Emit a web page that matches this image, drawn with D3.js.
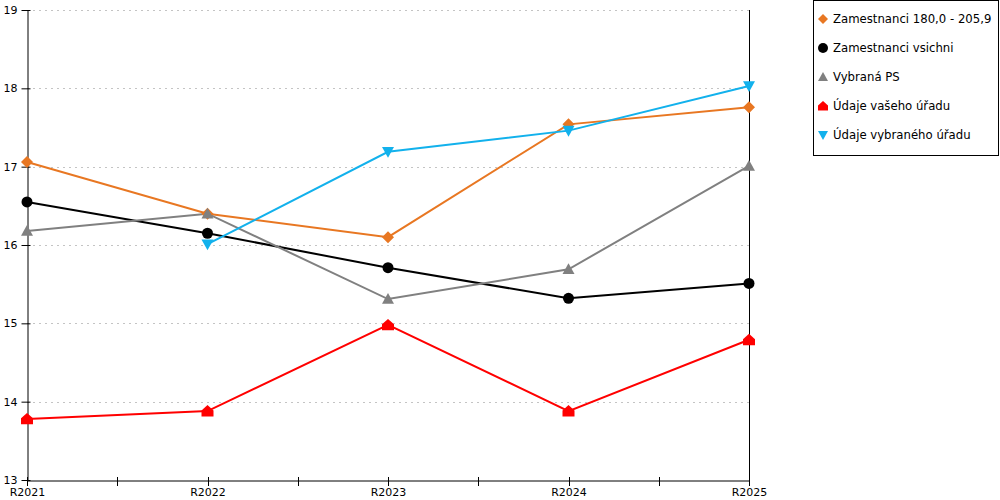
<!DOCTYPE html>
<html>
<head>
<meta charset="utf-8">
<script src="https://cdnjs.cloudflare.com/ajax/libs/d3/7.8.5/d3.min.js"></script>
<style>
  body { margin: 0; background: #fff; }
  svg text { font-family: "DejaVu Sans", Verdana, sans-serif; font-size: 11px; fill: #000; }
</style>
</head>
<body>
<svg id="chart" width="1000" height="500"></svg>
<script>
var years = ["R2021", "R2022", "R2023", "R2024", "R2025"];
var yTicks = [13, 14, 15, 16, 17, 18, 19];

var zam180 = [17.06, 16.40, 16.10, 17.54, 17.76];
var zamVsichni = [16.55, 16.15, 15.71, 15.32, 15.51];
var vybranaPS = [16.18, 16.40, 15.31, 15.69, 17.01];
var vasUrad = [13.78, 13.88, 14.98, 13.88, 14.79];
var vybranyUrad = [null, 16.01, 17.19, 17.46, 18.03];

var seriesNames = ["Zamestnanci 180,0 - 205,9", "Zamestnanci vsichni", "Vybraná PS", "Údaje vašeho úřadu", "Údaje vybraného úřadu"];
var seriesColors = ["#e87722", "#000000", "#808080", "#ff0000", "#12b1ec"];
var seriesShapes = ["diamond", "circle", "triangle", "house", "triangleDown"];
var seriesValues = [zam180, zamVsichni, vybranaPS, vasUrad, vybranyUrad];

var svg = d3.select("#chart");
var plotLeft = 27, plotRight = 749, plotTop = 10, plotBottom = 480;

var x = d3.scalePoint().domain(years).range([plotLeft, plotRight]);
var y = d3.scaleLinear().domain([13, 19]).range([plotBottom, plotTop]);

// dashed grid
svg.append("g").selectAll("line")
  .data(yTicks.filter(function(d){ return d > 13; }))
  .enter().append("line")
  .attr("x1", plotLeft).attr("x2", plotRight)
  .attr("y1", function(d){ return Math.round(y(d)) + 0.5; })
  .attr("y2", function(d){ return Math.round(y(d)) + 0.5; })
  .attr("stroke", "#c4c4c4")
  .attr("stroke-dasharray", "2,4");

// right border
svg.append("line")
  .attr("x1", plotRight + 0.5).attr("x2", plotRight + 0.5)
  .attr("y1", plotTop).attr("y2", plotBottom)
  .attr("stroke", "#000");

// y axis
var yAxis = d3.axisLeft(y).tickValues(yTicks).tickSize(6).tickSizeOuter(0).tickFormat(d3.format("d"));
var yg = svg.append("g").attr("transform", "translate(" + (plotLeft + 0.5) + ",0)").call(yAxis);
yg.select(".domain").attr("stroke", "#000");
yg.selectAll(".tick line").attr("x1", -6).attr("x2", 3);
yg.selectAll(".tick text").attr("x", -10).style("font-size", "11px").style("font-family", "DejaVu Sans");

// x axis
var xAxis = d3.axisBottom(x).tickSize(0).tickSizeOuter(0);
var xg = svg.append("g").attr("transform", "translate(0," + (plotBottom + 0.5) + ")").call(xAxis);
xg.select(".domain").attr("stroke", "#000");
xg.selectAll(".tick text").attr("y", 8).style("font-size", "11px").style("font-family", "DejaVu Sans");

// x ticks at categories and halfway
var xTickPos = [];
for (var i = 0; i < years.length; i++) {
  xTickPos.push(x(years[i]));
  if (i < years.length - 1) xTickPos.push((x(years[i]) + x(years[i + 1])) / 2);
}
svg.append("g").selectAll("line").data(xTickPos).enter().append("line")
  .attr("x1", function(d){ return Math.round(d) + 0.5; })
  .attr("x2", function(d){ return Math.round(d) + 0.5; })
  .attr("y1", plotBottom - 3).attr("y2", plotBottom + 6)
  .attr("stroke", "#000");

function shapePath(shape, s) {
  if (shape == "diamond") return "M0," + (-s) + "L" + s + ",0L0," + s + "L" + (-s) + ",0Z";
  if (shape == "circle") return d3.symbol().type(d3.symbolCircle).size(Math.PI * s * s)();
  if (shape == "triangle") return "M0," + (-s) + "L" + s + "," + s * 0.8 + "L" + (-s) + "," + s * 0.8 + "Z";
  if (shape == "triangleDown") return "M0," + s + "L" + s + "," + (-s * 0.8) + "L" + (-s) + "," + (-s * 0.8) + "Z";
  if (shape == "house") return "M0," + (-s) + "L" + s + "," + (-s * 0.1) + "L" + s + "," + s * 0.9 + "L" + (-s) + "," + s * 0.9 + "L" + (-s) + "," + (-s * 0.1) + "Z";
}
var markerSize = [6, 5.5, 6, 6, 6];

var line = d3.line()
  .defined(function(d){ return d != null; })
  .x(function(d, i){ return x(years[i]); })
  .y(function(d){ return y(d); });

seriesValues.forEach(function(vals, k) {
  svg.append("path")
    .datum(vals)
    .attr("d", line)
    .attr("fill", "none")
    .attr("stroke", seriesColors[k])
    .attr("stroke-width", 2);
});

seriesValues.forEach(function(vals, k) {
  svg.append("g").selectAll("path")
    .data(vals.map(function(v, i){ return {v: v, i: i}; }).filter(function(d){ return d.v != null; }))
    .enter().append("path")
    .attr("transform", function(d){ return "translate(" + x(years[d.i]) + "," + y(d.v) + ")"; })
    .attr("d", shapePath(seriesShapes[k], markerSize[k]))
    .attr("fill", seriesColors[k]);
});

// legend
var lg = svg.append("g");
lg.append("rect")
  .attr("x", 813.5).attr("y", 0.5).attr("width", 185).attr("height", 155)
  .attr("fill", "#fff").attr("stroke", "#000");
seriesNames.forEach(function(name, k) {
  var ly = 19 + k * 29;
  lg.append("path")
    .attr("transform", "translate(823," + ly + ")")
    .attr("d", shapePath(seriesShapes[k], 5))
    .attr("fill", seriesColors[k]);
  lg.append("text")
    .attr("x", 833).attr("y", ly + 4)
    .style("font-size", "11.7px")
    .text(name);
});
</script>
</body>
</html>
